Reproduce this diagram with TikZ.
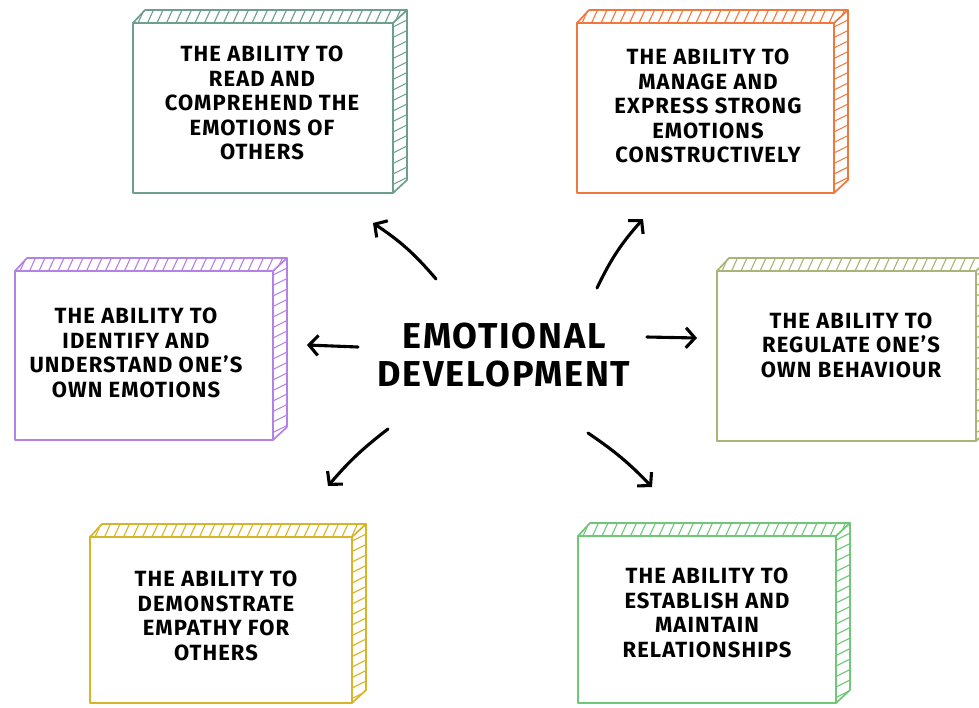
\documentclass[tikz,border=0pt]{standalone}
\usepackage{fontspec}
\setmainfont{Fira Sans}[LetterSpace=5]
\usetikzlibrary{arrows.meta}
\definecolor{cSage}{HTML}{6E9F8C}
\definecolor{cOrange}{HTML}{F0783C}
\definecolor{cPurple}{HTML}{B482E6}
\definecolor{cOlive}{HTML}{AAB478}
\definecolor{cYellow}{HTML}{D7B428}
\definecolor{cGreen}{HTML}{6EC878}
\tikzset{
  skline/.style={line width=1.7pt, line join=round, line cap=round},
  skhatch/.style={line width=1.1pt, line cap=round},
  boxtext/.style={align=center, inner sep=0pt, font=\bfseries\fontsize{22}{24.5}\selectfont},
  hubtext/.style={align=center, inner sep=0pt, font=\bfseries\fontsize{36}{38}\selectfont},
  skarrow/.style={line width=3.1pt, line cap=round, line join=round,
    -{Straight Barb[length=9pt,width=20pt,line width=3.1pt]}}
}
% #1 name, #2 colour, #3 left, #4 top, #5 right, #6 bottom, #7 text x, #8 text y, #9 text
\newcommand{\sketchcrate}[9]{%
  \pgfmathsetmacro\skL{#3}\pgfmathsetmacro\skT{#4}%
  \pgfmathsetmacro\skR{#5}\pgfmathsetmacro\skB{#6}%
  \begin{scope}[draw=#2]
    \begin{scope}
      \clip (\skL,-\skT) -- (\skL+12,-\skT+13) -- (\skR+14,-\skT+13) -- (\skR,-\skT) -- cycle;
      \foreach \i in {0,...,30} \draw[skhatch] ({\skL+5+9.5*\i},-\skT) -- ++(6,13);
    \end{scope}
    \begin{scope}
      \clip (\skR,-\skT) -- (\skR+14,-\skT+13) -- (\skR+14,-\skB+13) -- (\skR,-\skB) -- cycle;
      \foreach \i in {0,...,18} \draw[skhatch] (\skR,{-\skT-4-10.5*\i}) -- ++(14,7);
    \end{scope}
    \draw[skline] (\skL,-\skT) rectangle (\skR,-\skB);
    \draw[skline] (\skL,-\skT) -- (\skL+12,-\skT+13) -- (\skR+14,-\skT+13)
       -- (\skR+14,-\skB+13) -- (\skR,-\skB);
    \draw[skline] (\skR,-\skT) -- (\skR+14,-\skT+13);
  \end{scope}
  \node[boxtext] (#1) at (#7,-#8) {#9};
}
\begin{document}
\begin{tikzpicture}[x=1pt,y=1pt]
\useasboundingbox (0,0) rectangle (979,-707);
\fill[white] (0,0) rectangle (979,-707);

\sketchcrate{readothers}{cSage}{133}{23}{393}{193}{262}{103}{THE ABILITY TO\\READ AND\\COMPREHEND THE\\EMOTIONS OF\\OTHERS}
\sketchcrate{manage}{cOrange}{577}{23}{834}{193}{708}{106}{THE ABILITY TO\\MANAGE AND\\EXPRESS STRONG\\EMOTIONS\\CONSTRUCTIVELY}
\sketchcrate{identify}{cPurple}{15}{271}{273}{440}{136}{353}{THE ABILITY TO\\IDENTIFY AND\\UNDERSTAND ONE'S\\OWN EMOTIONS}
\sketchcrate{regulate}{cOlive}{717}{271}{976}{441}{851}{345}{THE ABILITY TO\\REGULATE ONE'S\\OWN BEHAVIOUR}
\sketchcrate{empathy}{cYellow}{90}{537}{352}{703}{216}{616}{THE ABILITY TO\\DEMONSTRATE\\EMPATHY FOR\\OTHERS}
\sketchcrate{relations}{cGreen}{578}{536}{836}{703}{707}{613}{THE ABILITY TO\\ESTABLISH AND\\MAINTAIN\\RELATIONSHIPS}

\node[hubtext] (hub) at (504,-355) {EMOTIONAL\\DEVELOPMENT};

\coordinate (s1) at (436,-279); \coordinate (e1) at (373,-223);
\coordinate (s2) at (597,-288); \coordinate (e2) at (643,-219);
\coordinate (s3) at (358,-347); \coordinate (e3) at (307,-345);
\coordinate (s4) at (647,-337); \coordinate (e4) at (697,-338);
\coordinate (s5) at (388,-429); \coordinate (e5) at (328,-486);
\coordinate (s6) at (588,-433); \coordinate (e6) at (652,-487);

\draw[skarrow] (s1) to[bend right=8] (e1);
\draw[skarrow] (s2) to[bend left=8] (e2);
\draw[skarrow] (s3) -- (e3);
\draw[skarrow] (s4) -- (e4);
\draw[skarrow] (s5) to[bend right=6] (e5);
\draw[skarrow] (s6) to[bend left=6] (e6);
\end{tikzpicture}
\end{document}
